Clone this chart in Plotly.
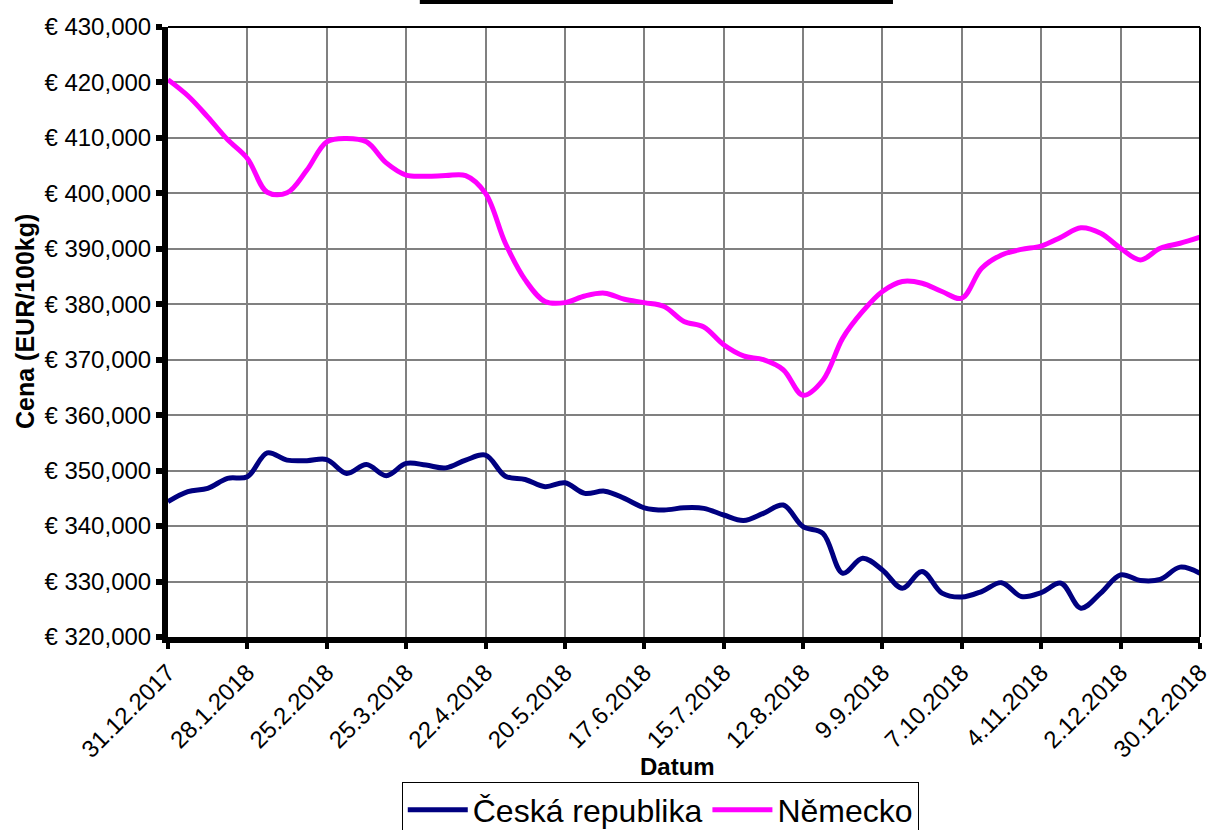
import pandas as pd
import plotly.graph_objects as go

# Weekly dates (categories)
dates = pd.date_range("2017-12-31", periods=53, freq="7D")

cz_values = [344.4, 346.2, 346.8, 348.6, 348.9, 353.2, 351.9, 351.8, 352.0, 349.5,
             351.1, 349.1, 351.3, 351.0, 350.5, 351.9, 352.8, 349.0, 348.4, 347.1,
             347.8, 345.9, 346.3, 345.0, 343.3, 342.9, 343.3, 343.2, 342.0, 341.0,
             342.3, 343.8, 339.9, 338.7, 331.5, 334.2, 332.1, 328.8, 331.8, 327.9,
             327.2, 328.2, 329.8, 327.3, 328.0, 329.7, 325.2, 327.9, 331.2, 330.2,
             330.4, 332.6, 331.5]

de_values = [420.5, 417.6, 413.8, 409.7, 406.3, 400.2, 400.1, 404.2, 409.3, 409.9,
             409.3, 405.5, 403.3, 403.1, 403.2, 403.2, 400.0, 391.0, 384.4, 380.5,
             380.3, 381.5, 382.0, 380.9, 380.3, 379.6, 376.9, 375.9, 372.7, 370.7,
             370.0, 368.2, 363.6, 366.3, 373.9, 378.7, 382.3, 384.1, 383.8, 382.3,
             381.1, 386.5, 388.9, 389.9, 390.5, 392.1, 393.8, 392.8, 390.1, 388.0,
             390.1, 391.0, 392.1]

x_tick_labels = ["31.12.2017", "28.1.2018", "25.2.2018", "25.3.2018", "22.4.2018",
                 "20.5.2018", "17.6.2018", "15.7.2018", "12.8.2018", "9.9.2018",
                 "7.10.2018", "4.11.2018", "2.12.2018", "30.12.2018"]
y_tick_values = [320, 330, 340, 350, 360, 370, 380, 390, 400, 410, 420, 430]
y_tick_labels = ["€ %d,000" % v for v in y_tick_values]

series_names = ["Česká republika", "Německo"]
series_colors = ["#000080", "#FF00FF"]

x_tick_vals = list(dates[::4])

FONT = "Liberation Sans, Arial, sans-serif"

fig = go.Figure()
for name, vals, col in zip(series_names, [cz_values, de_values], series_colors):
    fig.add_trace(go.Scatter(
        x=dates, y=vals, name=name, mode="lines",
        line=dict(color=col, width=5, shape="spline", smoothing=1.0),
    ))

x_end = dates[-1] + pd.Timedelta(minutes=30)

fig.update_layout(
    width=1209, height=830,
    margin=dict(l=168, r=9, t=27, b=193, autoexpand=False),
    paper_bgcolor="white", plot_bgcolor="white",
    font=dict(family=FONT, color="black", size=24),
    showlegend=True,
    legend=dict(
        orientation="h", x=0.477, xanchor="center", y=-0.237, yanchor="top",
        bordercolor="black", borderwidth=1, bgcolor="white",
        font=dict(size=32, family=FONT), itemwidth=60,
        tracegroupgap=0,
    ),
    xaxis=dict(
        range=[dates[0], x_end],
        tickvals=x_tick_vals, ticktext=x_tick_labels, tickangle=-45,
        showgrid=True, gridcolor="#808080", gridwidth=2,
        showline=True, linecolor="black", linewidth=6,
        ticks="outside", ticklen=6, tickwidth=4, tickcolor="black",
        tickfont=dict(size=24, family=FONT), ticklabeloverflow="allow",
        zeroline=False, automargin=False,
    ),
    yaxis=dict(
        range=[320, 430],
        tickvals=y_tick_values, ticktext=y_tick_labels,
        showgrid=True, gridcolor="#808080", gridwidth=2,
        showline=True, linecolor="black", linewidth=6,
        ticks="outside", ticklen=6, tickwidth=6, tickcolor="black",
        tickfont=dict(size=24, family=FONT),
        zeroline=False, automargin=False,
    ),
    annotations=[
        dict(text="<b>Datum</b>", xref="paper", yref="paper", x=0.494, y=-0.2115,
             showarrow=False, font=dict(size=24, family=FONT), xanchor="center", yanchor="middle"),
        dict(text="<b>Cena (EUR/100kg)</b>", xref="paper", yref="paper", x=-0.1386, y=0.518,
             showarrow=False, textangle=-90, font=dict(size=25, family=FONT),
             xanchor="center", yanchor="middle"),
    ],
    shapes=[
        # top and right plot borders
        dict(type="line", xref="paper", yref="paper", x0=0, x1=1, y0=1, y1=1,
             line=dict(color="black", width=2)),
        dict(type="line", xref="paper", yref="paper", x0=1, x1=1, y0=0, y1=1,
             line=dict(color="black", width=2)),
        # title box edge at very top
        dict(type="rect", xref="paper", yref="paper", x0=0.244, x1=0.7025, y0=1.0377, y1=1.05,
             fillcolor="black", line=dict(width=0)),
    ],
)

fig.write_html("out.html", config={"displayModeBar": False},
               post_script="document.body.style.margin='0';")
